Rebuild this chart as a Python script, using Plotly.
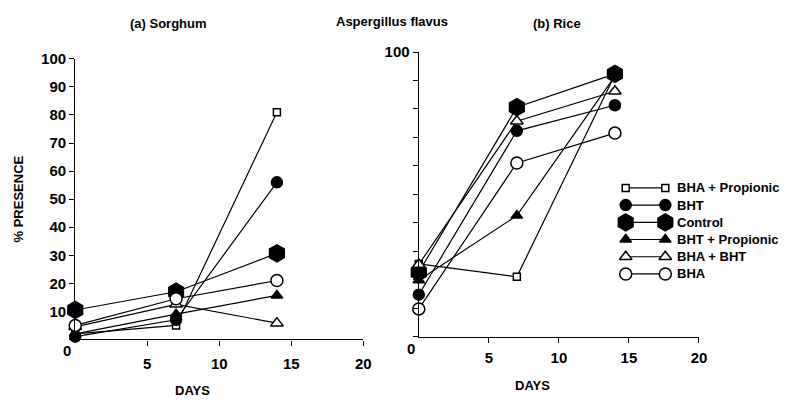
import plotly.graph_objects as go

days = [0, 7, 14]
series_names = ["BHA + Propionic", "BHT", "Control", "BHT + Propionic", "BHA + BHT", "BHA"]

# (a) Sorghum
sorghum = {
    "BHA + Propionic": [2, 5, 81],
    "BHT": [1, 7, 56],
    "Control": [10.5, 17, 30.7],
    "BHT + Propionic": [2, 9, 15.7],
    "BHA + BHT": [4.5, 12.5, 5.8],
    "BHA": [5, 14.5, 21],
}
# (b) Rice
rice = {
    "BHA + Propionic": [25.5, 21, 92],
    "BHT": [14.7, 72.3, 81.3],
    "Control": [22.6, 80.6, 92.3],
    "BHT + Propionic": [19.8, 42.5, 91.5],
    "BHA + BHT": [25.3, 75.7, 86.2],
    "BHA": [9.7, 61, 71.5],
}

styles = {
    "BHA + Propionic": dict(symbol="square", size=7, fill="white"),
    "BHT": dict(symbol="circle", size=11, fill="black"),
    "Control": dict(symbol="hexagon", size=17, fill="black"),
    "BHT + Propionic": dict(symbol="triangle-up", size=10, fill="black"),
    "BHA + BHT": dict(symbol="triangle-up", size=11, fill="white"),
    "BHA": dict(symbol="circle", size=12, fill="white"),
}

FONT = "Liberation Sans, Arial, sans-serif"
W, H = 804, 402
fig = go.Figure()

def add_series(data, xa, ya):
    for name in series_names:
        st = styles[name]
        fig.add_trace(go.Scatter(
            x=days, y=data[name], mode="lines+markers", name=name,
            xaxis=xa, yaxis=ya, showlegend=False, cliponaxis=False,
            line=dict(color="black", width=1.2),
            marker=dict(symbol=st["symbol"], size=st["size"], color=st["fill"],
                        line=dict(color="black", width=1.5)),
        ))

add_series(sorghum, "x", "y")
add_series(rice, "x2", "y2")

# custom legend (line with marker at both ends)
for i, name in enumerate(series_names):
    st = styles[name]
    fig.add_trace(go.Scatter(
        x=[0, 1], y=[i, i], mode="lines+markers", xaxis="x3", yaxis="y3", showlegend=False, cliponaxis=False,
        line=dict(color="black", width=1.2),
        marker=dict(symbol=st["symbol"], size=st["size"], color=st["fill"], line=dict(color="black", width=1.5)),
    ))
    fig.add_annotation(x=682 / W, y=i, xref="paper", yref="y3", text=name, showarrow=False,
                       xanchor="left", yanchor="middle", font=dict(family=FONT, size=13, color="black", weight="bold"))

tickfont = dict(family=FONT, size=15, color="black", weight="bold")
labfont = dict(family=FONT, size=13, color="black", weight="bold")
axis_common = dict(showgrid=False, zeroline=False, showline=True, linecolor="black", linewidth=1.3,
                   ticks="outside", ticklen=5, tickcolor="black", tickwidth=1.2, tickfont=tickfont)

ytick_vals = list(range(0, 101, 10))
fig.update_layout(
    width=W, height=H, margin=dict(l=0, r=0, t=0, b=0),
    paper_bgcolor="white", plot_bgcolor="white",
    xaxis=dict(domain=[76/W, 367/W], range=[0, 20], tickvals=[5, 10, 15, 20], anchor="y",
               ticklabelstandoff=5, **axis_common),
    yaxis=dict(domain=[64/H, 351/H], range=[0, 100], tickvals=ytick_vals,
               ticktext=[""] + [str(v) for v in ytick_vals[1:]], anchor="x",
               title=dict(text="% PRESENCE", font=labfont, standoff=14), **axis_common),
    xaxis2=dict(domain=[423/W, 706/W], range=[0, 20], tickvals=[5, 10, 15, 20], anchor="y2",
                ticklabelstandoff=2, **axis_common),
    yaxis2=dict(domain=[67/H, 358/H], range=[0, 100], tickvals=ytick_vals,
                ticktext=[""] * 10 + ["100"], anchor="x2", **axis_common),
    xaxis3=dict(domain=[632/W, 672/W], range=[0, 1], visible=False, anchor="y3"),
    yaxis3=dict(domain=[(H-279.8)/H, (H-174.2)/H], range=[5.5, -0.5], visible=False, anchor="x3"),
    showlegend=False,
)

# origin "0" labels placed below-left of the axis corner
for xr, yr in [("x", "y"), ("x2", "y2")]:
    fig.add_annotation(x=0, y=0, xref=xr, yref=yr, text="0", showarrow=False,
                       xanchor="right", yanchor="top", xshift=-2, yshift=-1, font=tickfont)

def ptext(text, px, py, font):
    fig.add_annotation(x=px / W, y=1 - py / H, xref="paper", yref="paper", text=text,
                       showarrow=False, font=font, xanchor="center", yanchor="middle")

titlefont = dict(family=FONT, size=13, color="black", weight="bold")
ptext("(a) Sorghum", 170, 15, titlefont)
ptext("Aspergillus flavus", 396, 13, titlefont)
ptext("(b) Rice", 563, 15, titlefont)
ptext("DAYS", 194, 390, labfont)
ptext("DAYS", 538, 385, labfont)

fig.write_html("out.html")
